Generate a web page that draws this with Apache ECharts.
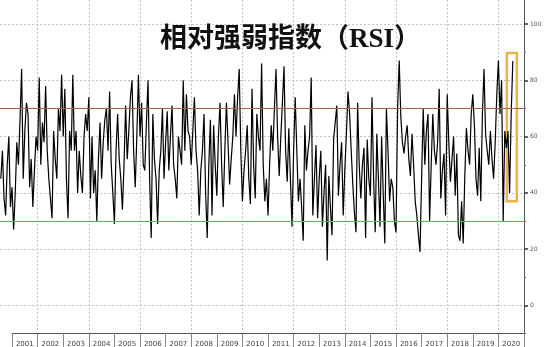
<!DOCTYPE html>
<html><head><meta charset="utf-8">
<script src="https://cdn.jsdelivr.net/npm/echarts@6/dist/echarts.min.js"></script>
<style>html,body{margin:0;padding:0;background:#fff}#c{width:550px;height:347px}</style>
</head><body><div id="c"></div>
<script>
const chartTitle = '相对强弱指数（RSI）';
const yearLabels = ['2001','2002','2003','2004','2005','2006','2007','2008','2009','2010',
  '2011','2012','2013','2014','2015','2016','2017','2018','2019','2020'];
const rsiStart = 2000.5625;   // decimal year of first reading
const rsiStep = 0.0625;       // years between readings
const rsiValues = [
  45,55,38,32,50,60,35,42,27,40,58,50,66,84,45,62,
  72,68,42,52,35,48,60,55,81,50,65,58,78,55,45,38,
  31,62,52,45,70,62,82,60,77,45,31,62,55,82,55,62,
  40,55,46,40,60,68,62,74,38,60,40,48,30,52,65,45,
  58,66,70,55,76,50,40,29,55,68,52,45,34,50,71,52,
  62,74,80,55,42,60,82,60,72,50,48,65,80,45,24,68,
  52,45,29,48,55,70,45,58,69,48,60,71,50,45,38,60,
  55,50,80,55,75,62,60,50,62,74,55,48,32,48,55,68,
  40,24,50,66,32,64,50,39,60,72,50,35,55,72,58,43,
  52,60,75,60,74,84,55,37,48,55,64,45,36,77,50,38,
  68,60,55,86,50,37,45,32,50,64,55,70,84,60,46,60,
  72,85,55,44,63,45,28,55,74,55,37,45,35,23,64,48,
  55,60,81,32,45,57,31,45,55,28,40,50,16,46,35,25,
  59,65,71,39,50,58,32,48,61,76,68,55,43,33,26,72,
  50,38,50,56,24,59,45,39,74,45,26,61,45,28,60,40,
  22,70,55,37,45,42,30,26,70,87,67,58,54,60,64,52,
  46,61,50,37,32,25,19,45,70,50,62,68,30,50,68,55,
  50,58,77,38,48,54,32,75,58,44,52,60,39,54,25,23,
  37,22,46,63,55,50,68,75,64,45,39,56,37,68,84,61,
  55,50,62,52,45,58,75,87,68,80,30,62,56,62,40,68,
  86.8291
];
const overbought = 70;
const oversold = 30;
const highlightX = [2020.33, 2020.72];
const highlightY = [37, 89.7];
const xRange = [2000.53, 2021];
const yMin = -20, yMax = 120, yInterval = 20;

const chart = echarts.init(document.getElementById('c'), null, {renderer: 'canvas'});
const seriesData = rsiValues.map((v, i) => [rsiStart + i * rsiStep, v]);
const lastValue = rsiValues[rsiValues.length - 1];

function levelSeries(value, color) {
  return {
    type: 'line', xAxisIndex: 0, yAxisIndex: 0, data: [], silent: true, z: 1,
    markLine: {
      symbol: 'none', silent: true, animation: false,
      lineStyle: {color: color, type: 'solid', width: 1.2, opacity: 1},
      label: {show: false},
      data: [{yAxis: value}]
    }
  };
}

const option = {
  animation: false,
  backgroundColor: '#fff',
  title: {
    text: chartTitle, left: 155, top: 22,
    textStyle: {fontFamily: '"Liberation Serif","Noto Sans CJK SC"', fontWeight: 'bold', fontSize: 27, color: '#111'}
  },
  grid: [
    {left: 0, right: 26, top: -32.3, height: 394.1, outerBoundsMode: 'none', containLabel: false},
    {left: 12, right: 26, top: 0, bottom: 14, outerBoundsMode: 'none', containLabel: false}
  ],
  xAxis: [
    {type: 'value', gridIndex: 0, min: xRange[0], max: xRange[1], show: false},
    {type: 'category', gridIndex: 1, data: yearLabels, boundaryGap: true,
      axisLine: {onZero: false, lineStyle: {color: '#555', width: 1}},
      axisTick: {show: true, interval: 0, length: 14, lineStyle: {color: '#888'}},
      axisLabel: {interval: 0, fontSize: 7, color: '#444', margin: 8, fontFamily: 'DejaVu Sans'},
      splitLine: {show: true, interval: (i) => i % 2 === 1, lineStyle: {color: '#c4c4c4', type: [2, 2]}}
    }
  ],
  yAxis: [
    {type: 'value', gridIndex: 0, position: 'right', min: yMin, max: yMax, interval: yInterval,
      axisLine: {show: false},
      axisTick: {show: true, length: 4, lineStyle: {color: '#333', width: 1.5}},
      minorTick: {show: true, splitNumber: 2, length: 2, lineStyle: {color: '#777'}},
      axisLabel: {fontSize: 6, color: '#555', margin: 6, fontFamily: 'DejaVu Sans'},
      splitLine: {show: true, lineStyle: {color: '#c4c4c4', type: [2, 2]}}
    },
    {type: 'value', gridIndex: 1, position: 'right',
      axisLine: {show: true, onZero: false, lineStyle: {color: '#555'}},
      axisTick: {show: false}, axisLabel: {show: false}, splitLine: {show: false}}
  ],
  series: [
    levelSeries(overbought, '#a9604f'),
    levelSeries(oversold, '#4fbf63'),
    {
      type: 'line', xAxisIndex: 0, yAxisIndex: 0, data: seriesData, z: 3,
      showSymbol: false, symbol: 'none',
      lineStyle: {color: '#000', width: 1.2},
      markLine: {
        symbol: 'none', silent: true, animation: false,
        lineStyle: {opacity: 0},
        data: [
          {yAxis: lastValue,
            label: {show: true, position: 'end', formatter: String(lastValue), distance: 3,
              backgroundColor: '#1a1a1a', color: '#fff', fontSize: 6.5, fontFamily: 'Liberation Sans',
              padding: [1, 2], borderRadius: 2}}
        ]
      },
      markArea: {
        silent: true,
        itemStyle: {color: 'rgba(0,0,0,0)', borderColor: '#e6b34f', borderWidth: 2.5, borderRadius: 2},
        data: [[{coord: [highlightX[0], highlightY[1]]}, {coord: [highlightX[1], highlightY[0]]}]]
      }
    }
  ]
};
chart.setOption(option);
</script>
</body></html>
